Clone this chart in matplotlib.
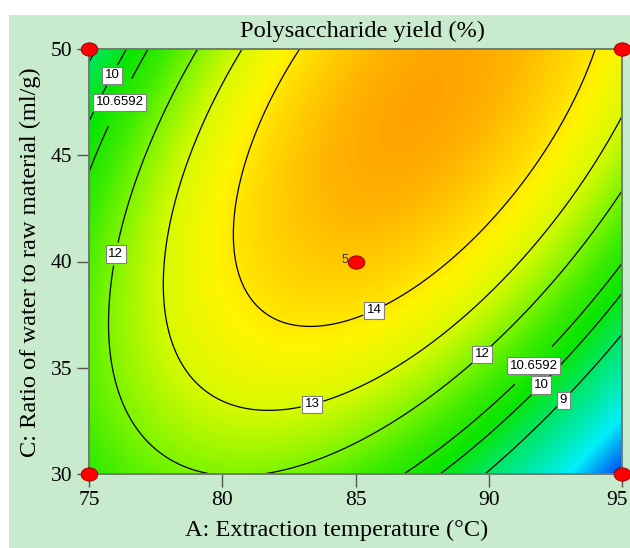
import numpy as np
import matplotlib
matplotlib.use("Agg")
import matplotlib.pyplot as plt
from matplotlib.colors import LinearSegmentedColormap, Normalize
from matplotlib.path import Path
from matplotlib.patches import Rectangle

# ---------------- data ----------------
temp_range = [75, 95]          # A: Extraction temperature (°C)
ratio_range = [30, 50]         # C: Ratio of water to raw material (ml/g)
x_ticks = [75, 80, 85, 90, 95]
y_ticks = [30, 35, 40, 45, 50]

# quadratic response-surface model, coded units a=(A-85)/10, c=(C-40)/10
coef_intercept = 14.55
coef_A = -0.35
coef_C = 1.66
coef_AC = 2.765
coef_A2 = -3.5
coef_C2 = -1.55

contour_levels = [9, 10, 10.6592, 12, 13, 14]
level_labels = ["9", "10", "10.6592", "12", "13", "14"]

design_A = [75, 75, 95, 95, 85]
design_C = [30, 50, 30, 50, 40]
design_reps = [1, 1, 1, 1, 5]

# ---------------- styling ----------------
plt.rcParams["font.family"] = ["Liberation Serif", "DejaVu Serif"]
W, H = 630, 548
fig = plt.figure(figsize=(W / 100, H / 100), dpi=100, facecolor="white")
fig.patches.append(Rectangle((9 / W, 0), 1, 1 - 15 / H, transform=fig.transFigure,
                             facecolor="#c8ebcd", edgecolor="none", zorder=-10))

ax = fig.add_axes([89 / W, 74 / H, 533 / W, 425 / H])

A = np.linspace(temp_range[0], temp_range[1], 400)
C = np.linspace(ratio_range[0], ratio_range[1], 400)
AA, CC = np.meshgrid(A, C)
a = (AA - 85) / 10.0
c = (CC - 40) / 10.0
Z = (coef_intercept + coef_A * a + coef_C * c + coef_AC * a * c
     + coef_A2 * a ** 2 + coef_C2 * c ** 2)

anchors = [(4.7, (0, 60, 235)), (6.6, (0, 240, 250)), (8.8, (0, 230, 110)),
           (10.2, (10, 230, 0)), (11.2, (60, 236, 0)), (12.0, (125, 245, 0)),
           (13.0, (215, 250, 0)), (13.8, (255, 245, 0)), (14.6, (255, 200, 0)),
           (15.2, (255, 160, 0))]
vmin, vmax = anchors[0][0], anchors[-1][0]
cmap = LinearSegmentedColormap.from_list(
    "de", [((v - vmin) / (vmax - vmin), tuple(ch / 255 for ch in col)) for v, col in anchors])

ax.imshow(Z, extent=[temp_range[0], temp_range[1], ratio_range[0], ratio_range[1]],
          origin="lower", aspect="auto", cmap=cmap, norm=Normalize(vmin, vmax),
          interpolation="bilinear", zorder=0)
cs = ax.contour(A, C, Z, levels=contour_levels, colors="black", linewidths=0.9, zorder=2)

label_pos = [(75.71, 48.87), (75.98, 47.6), (76.01, 40.35), (83.29, 33.67),
             (85.51, 38.19), (89.6, 35.84), (91.55, 35.27), (91.81, 34.38), (92.67, 33.62)]
texts = ax.clabel(cs, contour_levels, fmt=dict(zip(contour_levels, level_labels)),
                  manual=label_pos, inline=True, fontsize=9.5)
for t in texts:
    t.set_rotation(0)
    t.set_family(["Liberation Sans", "DejaVu Sans"])
    t.set_bbox(dict(boxstyle="square,pad=0.2", facecolor="white", edgecolor="#808080", linewidth=0.8))
    t.set_zorder(4)

ax.set_xlim(temp_range)
ax.set_ylim(ratio_range)
ax.set_xticks(x_ticks)
ax.set_yticks(y_ticks)
ax.tick_params(direction="out", length=9, width=1, color="#555555", labelsize=15.5, pad=3)
for s in ax.spines.values():
    s.set_color("#6f7f6f")
    s.set_linewidth(1.4)
last = ax.get_xticklabels()[-1]
last.set_horizontalalignment("center")

verts = Path.unit_circle().vertices * np.array([1.0, 0.8])
ell = Path(verts, Path.unit_circle().codes)
ax.plot(design_A, design_C, linestyle="none", marker=ell, markersize=12,
        markerfacecolor="#ff0000", markeredgecolor="#8a0000", markeredgewidth=0.6,
        clip_on=False, zorder=6)
for x, y, n in zip(design_A, design_C, design_reps):
    if n > 1:
        ax.annotate(str(n), (x, y), xytext=(-5, 1), textcoords="offset points",
                    ha="right", va="center", fontsize=9, color="#333333",
                    family=["Liberation Sans", "DejaVu Sans"], zorder=6)

fs = 17.6
fig.text(362 / W, 1 - 31 / H, "Polysaccharide yield (%)", ha="center", va="center", fontsize=fs)
fig.text(337 / W, 1 - 530 / H, "A: Extraction temperature (\u00b0C)", ha="center", va="center", fontsize=fs)
fig.text(30 / W, 1 - 262 / H, "C: Ratio of water to raw material (ml/g)", ha="center", va="center",
         rotation=90, fontsize=fs)

fig.canvas.draw()
lbl = ax.get_xticklabels()[-1]
bb = lbl.get_window_extent()
if bb.x1 > W - 1:
    from matplotlib.transforms import offset_copy
    lbl.set_transform(offset_copy(lbl.get_transform(), fig=fig, x=-(bb.x1 - W + 2), units="dots"))

fig.savefig("out.png", dpi=100, facecolor=fig.get_facecolor())
